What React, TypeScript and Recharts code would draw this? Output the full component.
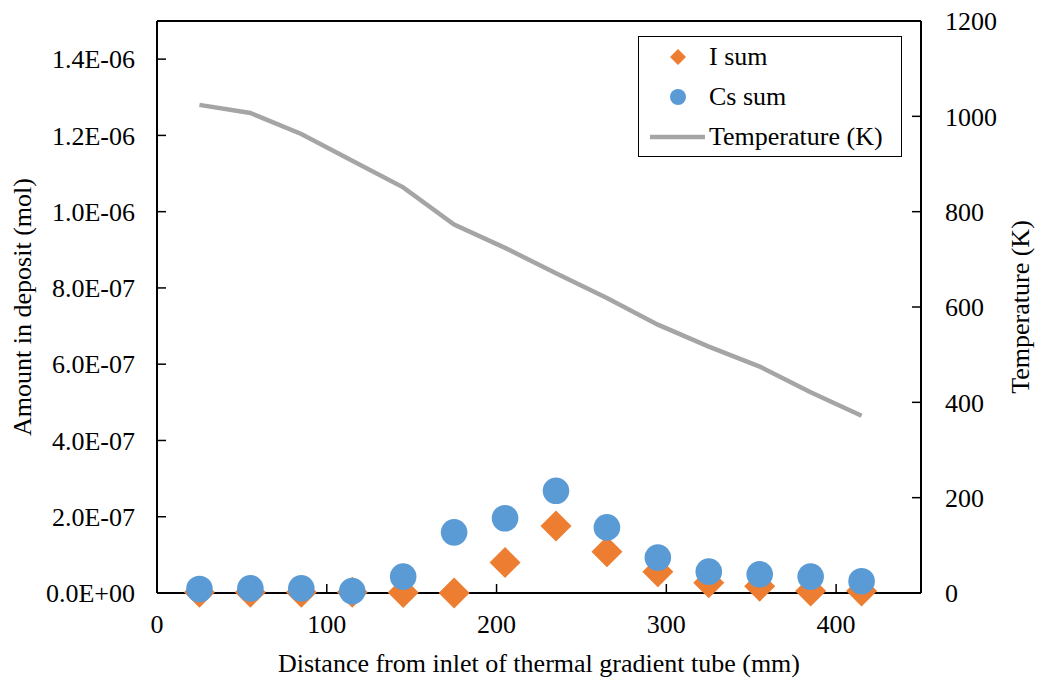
import React from 'react';
import { ComposedChart, Line, Scatter, XAxis, YAxis, ReferenceLine, Legend } from 'recharts';

const distances = [25, 55, 85, 115, 145, 175, 205, 235, 265, 295, 325, 355, 385, 415];
const iSum = [2e-9, 2e-9, 2e-9, 2e-9, 1e-9, 0, 8.0e-8, 1.76e-7, 1.08e-7, 5.6e-8, 2.7e-8, 1.8e-8, 5e-9, 5e-9];
const csSum = [1.05e-8, 1.2e-8, 1.2e-8, 5e-9, 4.3e-8, 1.59e-7, 1.96e-7, 2.68e-7, 1.72e-7, 9.3e-8, 5.6e-8, 4.9e-8, 4.3e-8, 3.1e-8];
const temperature = [1024, 1007, 963, 907, 851, 773, 724, 671, 619, 563, 517, 475, 421, 372];

const xTicks = [0, 100, 200, 300, 400];
const leftTicks = [0, 2e-7, 4e-7, 6e-7, 8e-7, 1.0e-6, 1.2e-6, 1.4e-6];
const rightTicks = [0, 200, 400, 600, 800, 1000, 1200];
const seriesNames = ['I sum', 'Cs sum', 'Temperature (K)'];

const ORANGE = '#ed7d31';
const BLUE = '#5b9bd5';
const GRAY = '#a5a5a5';
const FONT = '"Liberation Serif", "Times New Roman", serif';
const FS = 26;

const data = distances.map((x, i) => ({ x, iSum: iSum[i], csSum: csSum[i], temp: temperature[i] }));

const fmtSci = (v: number) => {
  if (v === 0) return '0.0E+00';
  const [m, e] = v.toExponential(1).split('e');
  const n = parseInt(e, 10);
  const sign = n < 0 ? '-' : '+';
  const abs = Math.abs(n).toString().padStart(2, '0');
  return `${m}E${sign}${abs}`;
};

const Diamond = (props: any) => {
  const { cx, cy } = props;
  const h = 15.5;
  return <polygon points={`${cx},${cy - h} ${cx + h},${cy} ${cx},${cy + h} ${cx - h},${cy}`} fill={ORANGE} />;
};

const Circle = (props: any) => {
  const { cx, cy } = props;
  return <circle cx={cx} cy={cy} r={13.3} fill={BLUE} />;
};

const LegendBox = () => (
  <div
    style={{
      width: 264,
      height: 121,
      boxSizing: 'border-box',
      border: '1.5px solid #000',
      background: '#fff',
      fontFamily: FONT,
      fontSize: FS,
      color: '#000',
      position: 'relative',
    }}
  >
    <svg width={264} height={121} style={{ position: 'absolute', left: -1.5, top: -1.5 }}>
      <polygon points="40,13 48,21 40,29 32,21" fill={ORANGE} />
      <circle cx={40} cy={61} r={8} fill={BLUE} />
      <line x1={12} y1={101} x2={67} y2={101} stroke={GRAY} strokeWidth={4.5} />
      <text x={71} y={20} dominantBaseline="central" fontFamily={FONT} fontSize={FS}>{seriesNames[0]}</text>
      <text x={71} y={60} dominantBaseline="central" fontFamily={FONT} fontSize={FS}>{seriesNames[1]}</text>
      <text x={71} y={100} dominantBaseline="central" fontFamily={FONT} fontSize={FS}>{seriesNames[2]}</text>
    </svg>
  </div>
);

const tickStyle = { fontFamily: FONT, fontSize: FS, fill: '#000' };

export default function App() {
  return (
    <div style={{ position: 'absolute', left: 0, top: 0, width: 1040, height: 684, background: '#fff' }}>
      <ComposedChart
        width={1040}
        height={684}
        data={data}
        margin={{ top: 21, right: 0, bottom: 0, left: 0 }}
      >
        <XAxis
          type="number"
          dataKey="x"
          domain={[0, 450]}
          ticks={xTicks}
          interval={0}
          height={91}
          tickSize={-9}
          tickMargin={31}
          stroke="#000"
          strokeWidth={2}
          tick={tickStyle}
          tickLine={{ stroke: '#000', strokeWidth: 1.5 }}
          axisLine={{ stroke: '#000', strokeWidth: 2 }}
          label={{
            content: (p: any) => (
              <text x={539} y={663} textAnchor="middle" dominantBaseline="central" fontFamily={FONT} fontSize={FS} fill="#000">
                Distance from inlet of thermal gradient tube (mm)
              </text>
            ),
          }}
        />
        <YAxis
          yAxisId="left"
          orientation="left"
          type="number"
          domain={[0, 1.5e-6]}
          ticks={leftTicks}
          interval={0}
          width={157}
          tickSize={-9}
          tickMargin={31}
          tickFormatter={fmtSci}
          tick={tickStyle}
          tickLine={{ stroke: '#000', strokeWidth: 1.5 }}
          axisLine={{ stroke: '#000', strokeWidth: 2 }}
          label={{
            content: (p: any) => (
              <text x={22} y={307} transform="rotate(-90 22 307)" textAnchor="middle" dominantBaseline="central" fontFamily={FONT} fontSize={FS} fill="#000">
                Amount in deposit (mol)
              </text>
            ),
          }}
        />
        <YAxis
          yAxisId="right"
          orientation="right"
          type="number"
          domain={[0, 1200]}
          ticks={rightTicks}
          interval={0}
          width={119}
          tickSize={-9}
          tickMargin={33}
          tick={tickStyle}
          tickLine={{ stroke: '#000', strokeWidth: 1.5 }}
          axisLine={{ stroke: '#000', strokeWidth: 2 }}
          label={{
            content: (p: any) => (
              <text x={1020} y={307} transform="rotate(-90 1020 307)" textAnchor="middle" dominantBaseline="central" fontFamily={FONT} fontSize={FS} fill="#000">
                Temperature (K)
              </text>
            ),
          }}
        />
        <ReferenceLine yAxisId="left" y={1.5e-6} stroke="#000" strokeWidth={2} />
        <Line
          yAxisId="right"
          type="linear"
          dataKey="temp"
          name={seriesNames[2]}
          stroke={GRAY}
          strokeWidth={4.5}
          dot={false}
          activeDot={false}
          isAnimationActive={false}
        />
        <Scatter yAxisId="left" dataKey="iSum" name={seriesNames[0]} shape={Diamond} isAnimationActive={false} />
        <Scatter yAxisId="left" dataKey="csSum" name={seriesNames[1]} shape={Circle} isAnimationActive={false} />
        <Legend
          layout="vertical"
          align="center"
          verticalAlign="middle"
          content={() => <LegendBox />}
          wrapperStyle={{ position: 'absolute', left: 638, top: 36, width: 264, height: 121 }}
        />
      </ComposedChart>
    </div>
  );
}
